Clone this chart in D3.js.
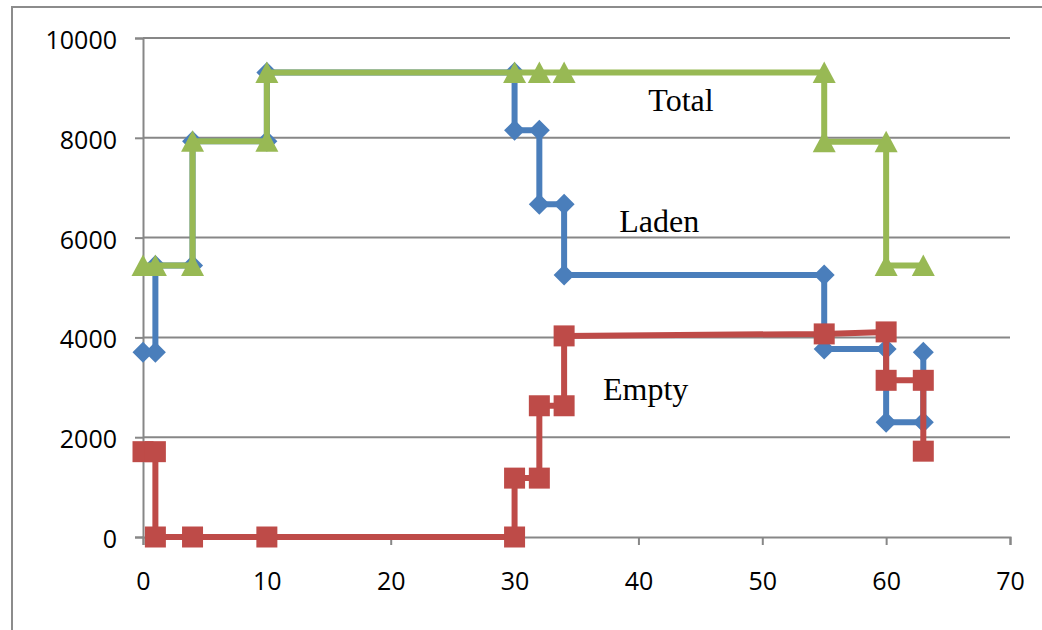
<!DOCTYPE html>
<html><head><meta charset="utf-8">
<script src="https://cdn.jsdelivr.net/npm/d3@7"></script>
<style>html,body{margin:0;padding:0;background:#fff;overflow:hidden}</style>
</head><body>
<svg id="c" width="1042" height="630"></svg>
<script>
const xTicks = [0,10,20,30,40,50,60,70];
const yTicks = [0,2000,4000,6000,8000,10000];
const ladenX = [0,1,1,4,4,10,10,30,30,32,32,34,34,55,55,60,60,63,63];
const ladenY = [3700,3700,5440,5440,7930,7930,9310,9310,8150,8150,6670,6670,5250,5250,3770,3770,2300,2300,3700];
const emptyX = [0,1,1,4,10,30,30,32,32,34,34,55,60,60,63,63];
const emptyY = [1710,1710,0,0,0,0,1180,1180,2630,2630,4030,4070,4110,3140,3140,1720];
const totalX = [0,1,4,4,10,10,30,32,34,55,55,60,60,63];
const totalY = [5440,5440,5440,7930,7930,9310,9310,9310,9310,9310,7920,7920,5440,5440];
const labels = [{t:"Total",x:40.8,y:8545},{t:"Laden",x:38.45,y:6112},{t:"Empty",x:37.14,y:2745}];

const svg = d3.select("#c");
const x = d3.scaleLinear().domain([0,70]).range([143,1010]);
const y = d3.scaleLinear().domain([0,10000]).range([537,38]);
const grid = "#878787";

svg.append("rect").attr("x",12).attr("y",7).attr("width",1100).attr("height",700)
  .attr("fill","none").attr("stroke","#8c8c8c").attr("stroke-width",2);

// gridlines
svg.append("g").selectAll("line").data(yTicks.filter(d=>d>0)).join("line")
  .attr("x1",x(0)).attr("x2",x(70)).attr("y1",d=>y(d)).attr("y2",d=>y(d))
  .attr("stroke",grid).attr("stroke-width",2);

const yAxis = svg.append("g").attr("transform",`translate(${x(0)},0)`)
  .call(d3.axisLeft(y).tickValues(yTicks).tickSize(8).tickPadding(18).tickFormat(d3.format("d")));
const xAxis = svg.append("g").attr("transform",`translate(0,${y(0)})`)
  .call(d3.axisBottom(x).tickValues(xTicks).tickSize(8).tickPadding(40).tickFormat(d3.format("d")));
[yAxis,xAxis].forEach(a=>{
  a.select(".domain").attr("stroke",grid).attr("stroke-width",2);
  a.selectAll(".tick line").attr("stroke",grid).attr("stroke-width",2);
  a.selectAll("text").attr("font-family","'Open Sans', sans-serif").attr("font-size",25).attr("fill","#000");
});
yAxis.selectAll("text").attr("dy","0.42em");
xAxis.selectAll("text").attr("dy","0.2em");

function series(xs, ys, color, shape){
  const pts = xs.map((v,i)=>[v, ys[i]]);
  const line = d3.line().x(d=>x(d[0])).y(d=>y(d[1]));
  const g = svg.append("g");
  g.append("path").attr("d",line(pts)).attr("fill","none").attr("stroke",color)
    .attr("stroke-width",6).attr("stroke-linejoin","round");
  let p;
  if(shape==="diamond") p="M0,-10.5L10.5,0L0,10.5L-10.5,0Z";
  else if(shape==="square") p="M-10.5,-10.5H10.5V10.5H-10.5Z";
  else p="M0,-11L11.5,10.5H-11.5Z";
  g.selectAll(".m").data(pts).join("path").attr("class","m")
    .attr("transform",d=>`translate(${x(d[0])},${y(d[1])})`).attr("d",p).attr("fill",color);
}
series(ladenX, ladenY, "#4a7ebb", "diamond");
series(emptyX, emptyY, "#be4b48", "square");
series(totalX, totalY, "#98b954", "triangle");

svg.append("g").selectAll("text").data(labels).join("text")
  .attr("x",d=>x(d.x)).attr("y",d=>y(d.y)).text(d=>d.t)
  .attr("font-family","'Liberation Serif', 'Times New Roman', serif").attr("font-size",32).attr("fill","#000");
</script>
</body></html>
